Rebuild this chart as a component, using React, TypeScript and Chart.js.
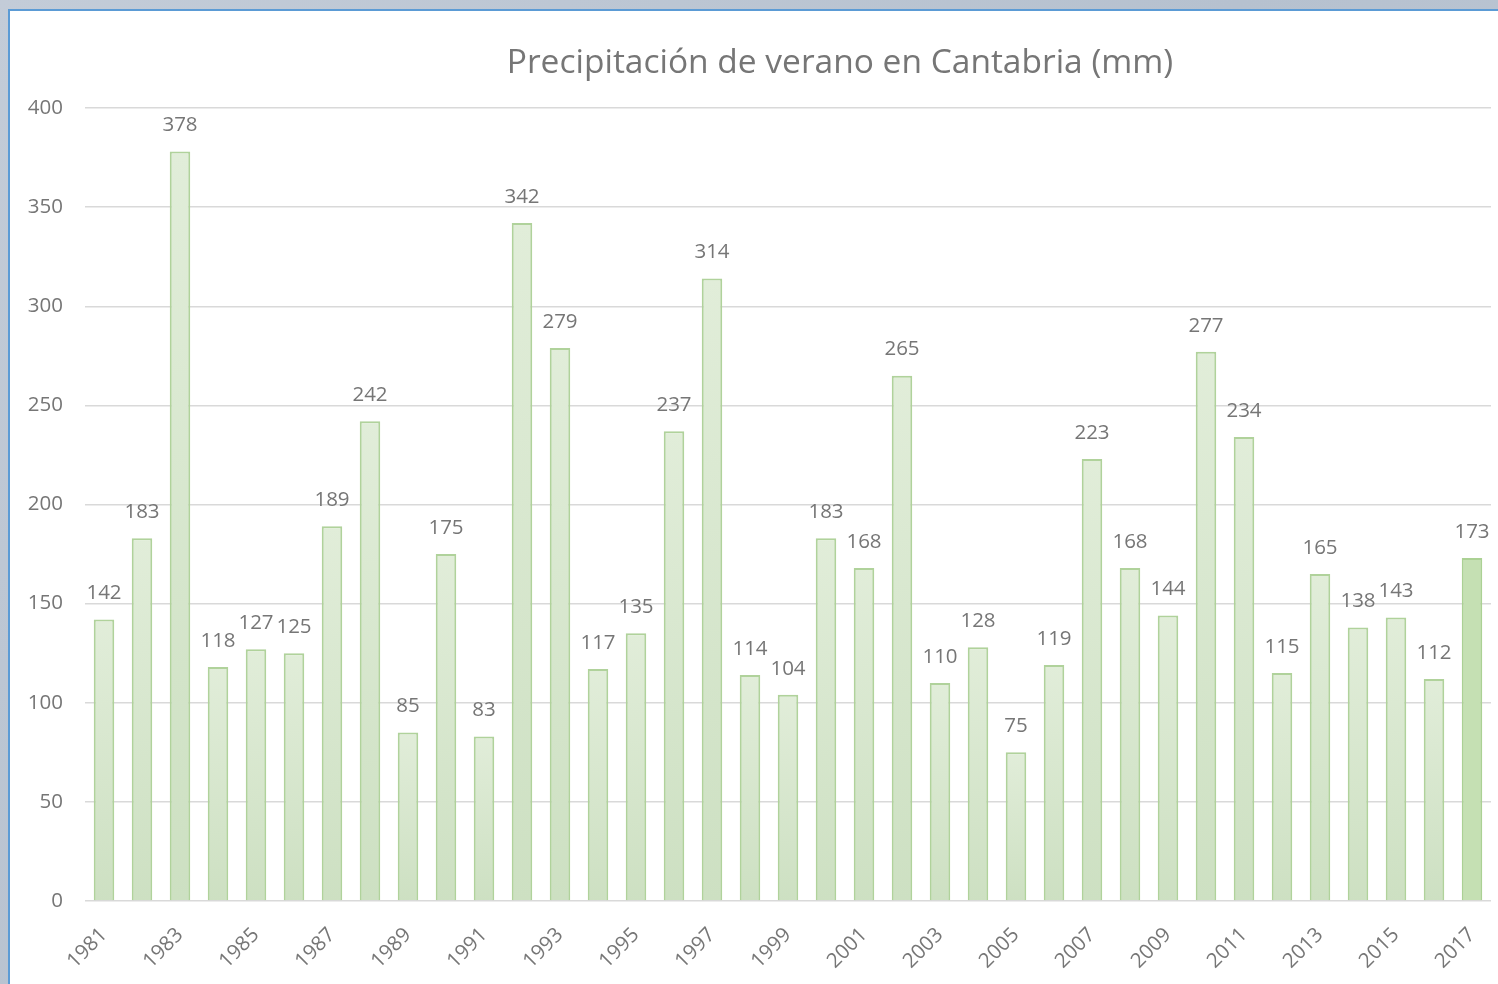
import React, { useEffect, useRef } from "react";
import { Chart, registerables } from "chart.js";

Chart.register(...registerables);

const years: string[] = [
  "1981", "1982", "1983", "1984", "1985", "1986", "1987", "1988", "1989", "1990",
  "1991", "1992", "1993", "1994", "1995", "1996", "1997", "1998", "1999", "2000",
  "2001", "2002", "2003", "2004", "2005", "2006", "2007", "2008", "2009", "2010",
  "2011", "2012", "2013", "2014", "2015", "2016", "2017",
];

const rainfall: number[] = [
  142, 183, 378, 118, 127, 125, 189, 242, 85, 175,
  83, 342, 279, 117, 135, 237, 314, 114, 104, 183,
  168, 265, 110, 128, 75, 119, 223, 168, 144, 277,
  234, 115, 165, 138, 143, 112, 173,
];

const yTicks: number[] = [0, 50, 100, 150, 200, 250, 300, 350, 400];

const titleText = "Precipitación de verano en Cantabria (mm)";

const FONT = "'Open Sans', 'Noto Sans', sans-serif";
const TEXT_COLOR = "#767676";

const labelPlugin = {
  id: "barLabels",
  afterDatasetsDraw(chart: any) {
    const { ctx } = chart;
    const meta = chart.getDatasetMeta(0);
    ctx.save();
    ctx.fillStyle = TEXT_COLOR;
    ctx.font = `20.5px ${FONT}`;
    ctx.textAlign = "center";
    ctx.textBaseline = "middle";
    meta.data.forEach((bar: any, i: number) => {
      ctx.fillText(String(rainfall[i]), bar.x, bar.y - 26);
    });
    ctx.restore();
  },
};

const titlePlugin = {
  id: "customTitle",
  afterDraw(chart: any) {
    const { ctx } = chart;
    ctx.save();
    ctx.fillStyle = TEXT_COLOR;
    ctx.font = `33.5px ${FONT}`;
    ctx.textAlign = "center";
    ctx.textBaseline = "middle";
    ctx.fillText(titleText, 830, 52);
    ctx.restore();
  },
};

export default function App() {
  const canvasRef = useRef<HTMLCanvasElement | null>(null);

  useEffect(() => {
    const canvas = canvasRef.current;
    if (!canvas) return;
    const last = rainfall.length - 1;
    const chart = new Chart(canvas, {
      type: "bar",
      data: {
        labels: years,
        datasets: [
          {
            data: rainfall,
            backgroundColor: (c: any) => {
              const chartObj = c.chart;
              if (c.dataIndex === last) return "#c5e0b3";
              const ys = chartObj.scales?.y;
              const area = chartObj.chartArea;
              if (!ys || !area || c.parsed == null) return "#d6e6cd";
              const top = ys.getPixelForValue(c.parsed.y);
              const bottom = ys.getPixelForValue(0);
              if (!isFinite(top) || !isFinite(bottom) || top === bottom) return "#d6e6cd";
              const g = chartObj.ctx.createLinearGradient(0, top, 0, bottom);
              g.addColorStop(0, "#e1edd9");
              g.addColorStop(1, "#cde0c2");
              return g;
            },
            borderColor: (c: any) => (c.dataIndex === last ? "#abd194" : "#b0d29b"),
            borderWidth: 2,
            barPercentage: 0.54,
            categoryPercentage: 1,
          },
        ],
      },
      options: {
        animation: false,
        responsive: false,
        maintainAspectRatio: false,
        layout: { padding: { top: 97, right: 7, left: 0, bottom: 0 } },
        plugins: {
          legend: { display: false },
          tooltip: { enabled: false },
          title: { display: false },
        },
        scales: {
          x: {
            grid: { display: false },
            border: { display: false },
            ticks: {
              autoSkip: false,
              maxRotation: 45,
              minRotation: 45,
              padding: 14,
              color: TEXT_COLOR,
              font: { family: FONT, size: 20.5 },
              callback: (_v: any, i: number) => (i % 2 === 0 ? years[i] : ""),
            },
            afterFit: (s: any) => {
              s.height = 83;
              s.paddingLeft = 0;
              s.paddingRight = 0;
            },
          },
          y: {
            min: 0,
            max: 400,
            afterBuildTicks: (s: any) => {
              s.ticks = yTicks.map((v) => ({ value: v }));
            },
            grid: { color: "#d9d9d9", lineWidth: 1.5, drawTicks: false },
            border: { display: false },
            ticks: {
              padding: 22,
              color: TEXT_COLOR,
              font: { family: FONT, size: 20.5 },
            },
            afterFit: (s: any) => {
              s.width = 75;
            },
          },
        },
      },
      plugins: [labelPlugin, titlePlugin],
    });
    return () => chart.destroy();
  }, []);

  return (
    <div
      style={{
        position: "fixed",
        left: 0,
        top: 0,
        width: 1498,
        height: 984,
        background: "linear-gradient(135deg, #c3ccd8 0%, #b6c1cf 50%, #c0cad7 100%)",
        overflow: "hidden",
      }}
    >
      <div
        style={{
          position: "absolute",
          left: 8,
          top: 9,
          width: 1490,
          height: 975,
          background: "#ffffff",
          borderLeft: "2px solid #5b9bd5",
          borderTop: "2px solid #5b9bd5",
          boxSizing: "border-box",
        }}
      >
        <canvas ref={canvasRef} width={1488} height={973} style={{ display: "block" }} />
      </div>
    </div>
  );
}
